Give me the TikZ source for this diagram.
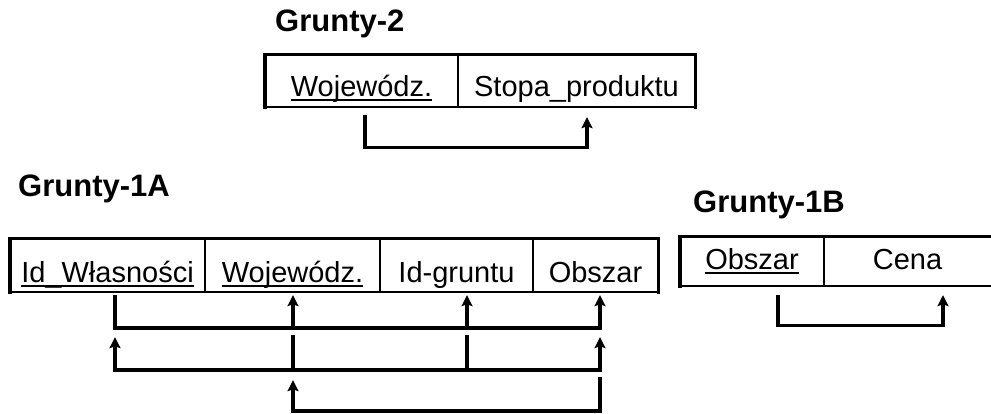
\documentclass[tikz,border=0pt]{standalone}
\usepackage{fontspec}
\setmainfont{Liberation Sans}
\usetikzlibrary{arrows.meta}
\newcommand\myul[1]{\setbox0\hbox{#1}\rlap{\rule[-4pt]{\wd0}{2pt}}\box0}
\begin{document}
\begin{tikzpicture}[x=1pt,y=1pt,
  cell/.style={draw=none,inner sep=0pt,font=\fontsize{29}{34}\selectfont},
  ttl/.style={inner sep=0pt,anchor=base west,font=\fontsize{31}{36}\selectfont\bfseries},
  divline/.style={line width=1.8pt},
  frame/.style={line width=3.4pt,line cap=rect},
  framebot/.style={line width=2.6pt},
  tip/.style={},
  conn/.style={line width=3.2pt,-{Stealth[length=11pt,width=11pt,inset=2pt]}},
  bconn/.style={line width=3.2pt,{Stealth[length=11pt,width=11pt,inset=2pt]}-{Stealth[length=11pt,width=11pt,inset=2pt]}},
  plain/.style={line width=3.2pt}]
\useasboundingbox (0,0) rectangle (991,414);

% ---------- Grunty-2 ----------
\node[ttl] (t2) at (275,382) {Grunty-2};
\node[cell,minimum width=193pt,text height=42pt,text depth=10pt] (g2a) at (361.5,333) {\myul{Wojewódz.}};
\node[cell,minimum width=237pt,text height=42pt,text depth=10pt] (g2b) at (576.5,333) {Stopa\_produktu};
\draw[divline] (g2a.north east) -- (g2a.south east);
\draw[frame] (g2a.south west) -- (g2a.north west) -- (g2b.north east) -- (g2b.south east);
\draw[framebot] (g2a.south west) -- (g2b.south east);
\draw[conn] ([xshift=3.5pt,yshift=-8pt]g2a.south) -- ++(0,-32) -| ([xshift=10.5pt,yshift=-10pt]g2b.south);

% ---------- Grunty-1A ----------
\node[ttl] (t1a) at (18,217) {Grunty-1A};
\node[cell,minimum width=195pt,text height=44pt,text depth=9pt] (a1) at (107.5,148.5) {\myul{Id\_Własności}};
\node[cell,minimum width=175pt,text height=44pt,text depth=9pt] (a2) at (292.5,148.5) {\myul{Wojewódz.}};
\node[cell,minimum width=153pt,text height=44pt,text depth=9pt] (a3) at (456.5,148.5) {Id-gruntu};
\node[cell,minimum width=125pt,text height=44pt,text depth=9pt] (a4) at (595.5,148.5) {Obszar};
\foreach \n in {a1,a2,a3} \draw[divline] (\n.north east) -- (\n.south east);
\draw[frame] (a1.south west) -- (a1.north west) -- (a4.north east) -- (a4.south east);
\draw[framebot] (a1.south west) -- (a4.south east);

\coordinate (ca) at ([xshift=7.5pt]a1.south);
\coordinate (cb) at ([xshift=0.5pt]a2.south);
\coordinate (cc) at ([xshift=10.5pt]a3.south);
\coordinate (cd) at ([xshift=4.5pt]a4.south);
\coordinate (r1) at (0,86);
\coordinate (r2) at (0,44);
\coordinate (r3) at (0,3);

% row 1
\draw[conn] ([yshift=-3pt]ca) -- (ca |- r1) -- (cd |- r1) -- ([yshift=-3pt]cd);
\draw[conn] (cb |- r1) -- ([yshift=-3pt]cb);
\draw[conn] (cc |- r1) -- ([yshift=-3pt]cc);
% row 2
\draw[bconn] ([yshift=-45pt]ca) -- (ca |- r2) -- (cd |- r2) -- ([yshift=-45pt]cd);
\draw[plain] ([yshift=-43pt]cb) -- (cb |- r2);
\draw[plain] ([yshift=-43pt]cc) -- (cc |- r2);
% row 3
\draw[conn] ([yshift=-85pt]cd) -- (cd |- r3) -- (cb |- r3) -- ([yshift=-88pt]cb);

% ---------- Grunty-1B ----------
\node[ttl] (t1b) at (693,201) {Grunty-1B};
\node[cell,minimum width=144pt,text height=33pt,text depth=16pt] (b1) at (752,152.5) {\myul{Obszar}};
\node[cell,minimum width=167pt,text height=33pt,text depth=16pt] (b2) at (907.5,152.5) {Cena};
\draw[divline] (b1.north east) -- (b1.south east);
\draw[frame] (b1.south west) -- (b1.north west) -- (b2.north east);
\draw[framebot] (b1.south west) -- (b2.south east);
\draw[conn] ([xshift=26pt,yshift=-9pt]b1.south) -- ++(0,-30) -| ([xshift=35.5pt,yshift=-9pt]b2.south);
\end{tikzpicture}
\end{document}
